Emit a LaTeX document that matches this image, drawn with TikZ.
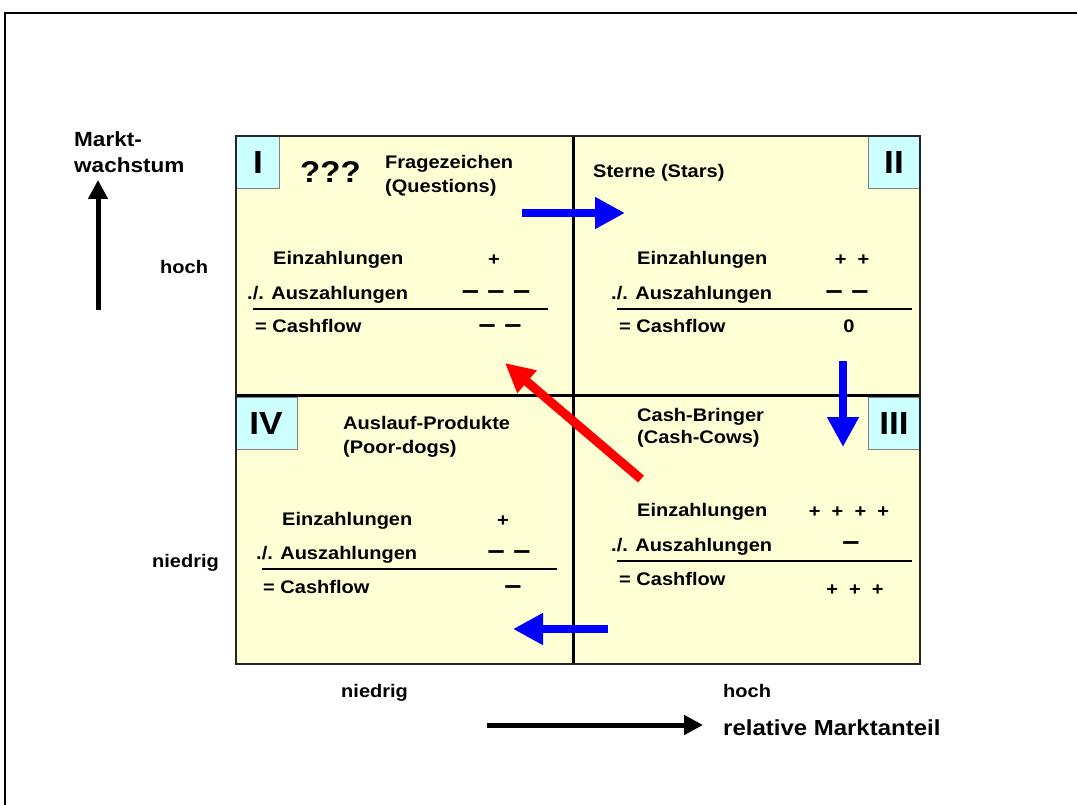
\documentclass[tikz,border=0pt]{standalone}
\usepackage{fontspec}
\setmainfont[FakeStretch=1.1]{Liberation Sans}
\usetikzlibrary{arrows.meta}
\definecolor{quadfill}{HTML}{FFFFD5}
\definecolor{numfill}{HTML}{CCFFFF}
\definecolor{arrblue}{HTML}{0000FF}
\definecolor{arrred}{HTML}{FF0000}
\newcommand\fsz[1]{\fontsize{#1}{#1}\selectfont}

\begin{document}
\begin{tikzpicture}[x=1pt,y=-1pt,
  lbl/.style={anchor=base west, inner sep=0pt, font=\bfseries\fsz{18.2}},
  ctr/.style={anchor=base, inner sep=0pt, font=\bfseries\fsz{18.2}},
  dashsym/.style={anchor=base, inner sep=0pt, font=\bfseries\fsz{28}},
  numeral/.style={anchor=base, inner sep=0pt, font=\bfseries\fsz{32}},
  axistitle/.style={anchor=base west, inner sep=0pt, font=\bfseries\fsz{20.5}},
  numbox/.style={draw=black!50, fill=numfill, line width=1pt},
  rulebar/.style={line width=2.5pt},
  flow/.style={line width=8pt, arrblue, -{Triangle[length=30pt,width=30pt]}},
  backflow/.style={line width=9pt, arrred, -{Triangle[length=29pt,width=28pt]}},
  axisarrow/.style={line width=5pt, -{Triangle[length=19pt,width=19pt]}}
]
\useasboundingbox (0,0) rectangle (1077,805);

% page frame
\draw[line width=1.5pt] (5,805) -- (5,13) -- (1077,13);

% portfolio matrix
\fill[quadfill] (236,136) rectangle (920,664);
\draw[line width=3pt] (573,136) -- (573,664);
\draw[line width=3pt] (236,395) -- (920,395);
\draw[numbox] (236,136) rectangle (279,189);
\draw[numbox] (868,136) rectangle (920,189);
\draw[numbox] (868,397) rectangle (920,449);
\draw[numbox] (236,397) rectangle (297,449);
\draw[line width=1.8pt, black!85] (236,136) rectangle (920,664);

% quadrant numerals
\node[numeral] (nI)   at (258,174) {I};
\node[numeral] (nII)  at (894,174) {II};
\node[numeral] (nIII) at (894,434) {III};
\node[numeral] (nIV)  at (266,434) {IV};

% quadrant I: question marks
\node[anchor=base west, inner sep=0pt, font=\bfseries\fsz{30}] (qm) at (300,183) {???};
\node[lbl] (t1a) at (385,169) {Fragezeichen};
\node[lbl] (t1b) at (385,193) {(Questions)};
\node[lbl] (e1) at (273,265) {Einzahlungen};
\node[ctr] (e1v) at (494,266) {+};
\node[lbl] (a1) at (247,299) {./. Auszahlungen};
\node[dashsym] (a1v) at (496,299) {– – –};
\draw[rulebar] (253,309) -- (548,309);
\node[lbl] (c1) at (255,333) {= Cashflow};
\node[dashsym] (c1v) at (500,334) {– –};

% quadrant II: stars
\node[lbl] (t2) at (593,178) {Sterne (Stars)};
\node[lbl] (e2) at (637,265) {Einzahlungen};
\node[ctr] (e2v) at (852,266) {+\ \ +};
\node[lbl] (a2) at (611,299) {./. Auszahlungen};
\node[dashsym] (a2v) at (847,299) {– –};
\draw[rulebar] (617,309) -- (912,309);
\node[lbl] (c2) at (619,333) {= Cashflow};
\node[ctr] (c2v) at (849,333) {0};

% quadrant III: cash cows
\node[lbl] (t3a) at (637,421) {Cash-Bringer};
\node[lbl] (t3b) at (637,443) {(Cash-Cows)};
\node[lbl] (e3) at (637,516) {Einzahlungen};
\node[ctr] (e3v) at (849,517) {+\ \ +\ \ +\ \ +};
\node[lbl] (a3) at (611,551) {./. Auszahlungen};
\node[dashsym] (a3v) at (851,550) {–};
\draw[rulebar] (617,561) -- (912,561);
\node[lbl] (c3) at (619,585) {= Cashflow};
\node[ctr] (c3v) at (855,595) {+\ \ +\ \ +};

% quadrant IV: poor dogs
\node[lbl] (t4a) at (343,429) {Auslauf-Produkte};
\node[lbl] (t4b) at (343,453) {(Poor-dogs)};
\node[lbl] (e4) at (282,525) {Einzahlungen};
\node[ctr] (e4v) at (503,526) {+};
\node[lbl] (a4) at (256,559) {./. Auszahlungen};
\node[dashsym] (a4v) at (509,559) {– –};
\draw[rulebar] (262,569) -- (557,569);
\node[lbl] (c4) at (263,593) {= Cashflow};
\node[dashsym] (c4v) at (513,594) {–};

% axis labels
\node[axistitle] (ya) at (74,147) {Markt-};
\node[axistitle] (yb) at (74,173) {wachstum};
\node[lbl] (yhi) at (160,274) {hoch};
\node[lbl] (ylo) at (152,567) {niedrig};
\node[lbl] (xlo) at (341,697) {niedrig};
\node[lbl] (xhi) at (723,697) {hoch};
\node[axistitle, font=\bfseries\fsz{21.8}] (xt) at (723,735) {relative Marktanteil};

% arrow end points
\coordinate (yax0) at (98,310);
\coordinate (yax1) at (98,180);
\coordinate (xax0) at (487,725);
\coordinate (xax1) at (703,725);
\coordinate (f12a) at (522,213);
\coordinate (f12b) at (625,213);
\coordinate (f23a) at (843,361);
\coordinate (f23b) at (843,447);
\coordinate (f34a) at (608,629);
\coordinate (f34b) at (513,629);
\coordinate (f31a) at (641,479);
\coordinate (f31b) at (505,363);

% axes
\draw[axisarrow] (yax0) -- (yax1);
\draw[axisarrow] (xax0) -- (xax1);

% product life cycle flows
\draw[flow] (f12a) -- (f12b);
\draw[flow] (f23a) -- (f23b);
\draw[flow] (f34a) -- (f34b);
\draw[backflow] (f31a) -- (f31b);
\end{tikzpicture}
\end{document}
